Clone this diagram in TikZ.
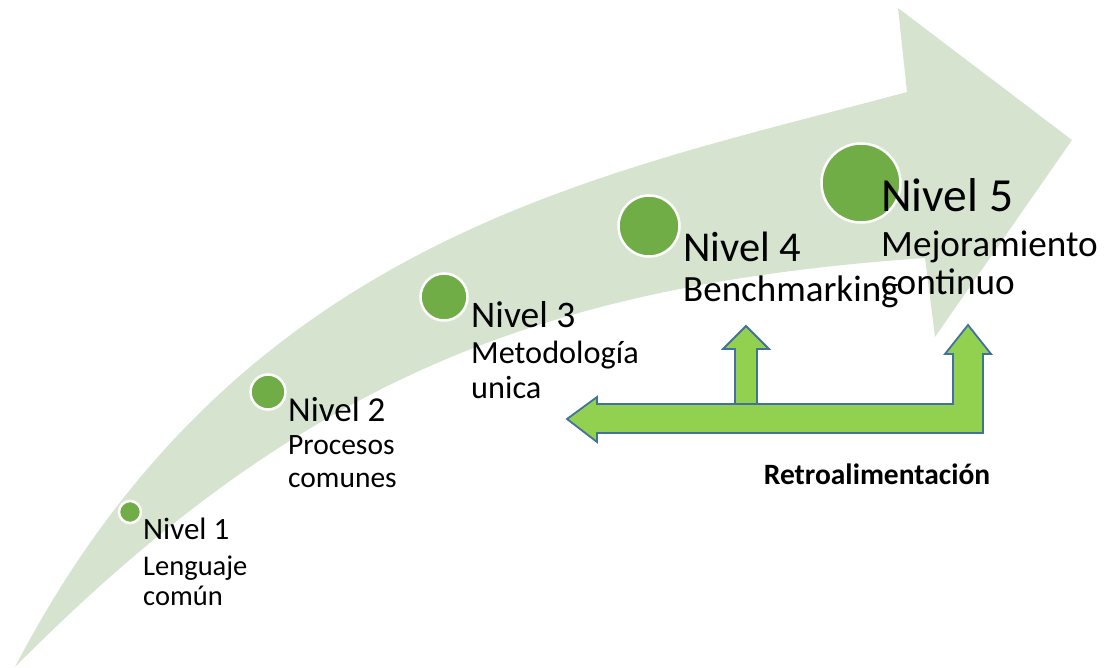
\documentclass[tikz,border=0pt]{standalone}
\usepackage{fontspec}
\setmainfont{Carlito}
\definecolor{bandgreen}{HTML}{D6E4CF}
\definecolor{dotgreen}{HTML}{70AD47}
\definecolor{fbgreen}{HTML}{92D050}
\definecolor{fbblue}{HTML}{41719C}
\newcommand{\fs}[1]{\fontsize{#1}{#1}\selectfont}
\begin{document}
\begin{tikzpicture}[x=1pt,y=-1pt,
  dot/.style={circle,fill=dotgreen,draw=white,line width=2.5pt,inner sep=0pt},
  lvl/.style={anchor=base west,inner sep=0pt,text=black},
  feedback/.style={fill=fbgreen,draw=fbblue,line width=1.8pt,line join=miter}]
\useasboundingbox (0,0) rectangle (1106,668);

% curved progress arrow
\fill[bandgreen] (15,667) .. controls (240,235) and (600,175) .. (907,92)
  -- (898,8) -- (1072,140) -- (935,337) -- (925,258)
  .. controls (540,285) and (300,380) .. (15,667) -- cycle;

% level markers
\node[dot,minimum size=22pt] (c1) at (130,512) {};
\node[dot,minimum size=35pt] (c2) at (268,392) {};
\node[dot,minimum size=47pt] (c3) at (444,297) {};
\node[dot,minimum size=61pt] (c4) at (649,226) {};
\node[dot,minimum size=79pt] (c5) at (861,183) {};

% feedback arrows
\draw[feedback] (567,419) -- (597,397) -- (597,404) -- (953,404) -- (953,354)
  -- (945,354) -- (968,325) -- (991,354) -- (983,354) -- (983,433)
  -- (597,433) -- (597,442) -- cycle;
\draw[feedback] (735,404) -- (735,349) -- (723,349) -- (746,326) -- (769,349)
  -- (757,349) -- (757,404) -- cycle;

% level labels
\node[lvl,font=\fs{31}] (n1) at (143,539) {Nivel 1};
\node[lvl,font=\fs{28.5}] (n1a) at (143,575) {Lenguaje};
\node[lvl,font=\fs{28.5}] (n1b) at (143,605) {común};

\node[lvl,font=\fs{35}] (n2) at (288,421) {Nivel 2};
\node[lvl,font=\fs{29.5}] (n2a) at (288,454) {Procesos};
\node[lvl,font=\fs{29.5}] (n2b) at (288,487) {comunes};

\node[lvl,font=\fs{37.5}] (n3) at (471,328) {Nivel 3};
\node[lvl,font=\fs{32.3}] (n3a) at (471,363) {Metodología};
\node[lvl,font=\fs{32.3}] (n3b) at (471,398) {unica};

\node[lvl,font=\fs{42.5}] (n4) at (683,262) {Nivel 4};
\node[lvl,font=\fs{37}] (n4a) at (683,302) {Benchmarking};

\node[lvl,font=\fs{47.5}] (n5) at (881,212) {Nivel 5};
\node[lvl,font=\fs{37.2}] (n5a) at (881,257) {Mejoramiento};
\node[lvl,font=\fs{37.2}] (n5b) at (881,295) {continuo};

\node[anchor=base,inner sep=0pt,font=\bfseries\fs{29.5}] (retro) at (877,484) {Retroalimentación};
\end{tikzpicture}
\end{document}
